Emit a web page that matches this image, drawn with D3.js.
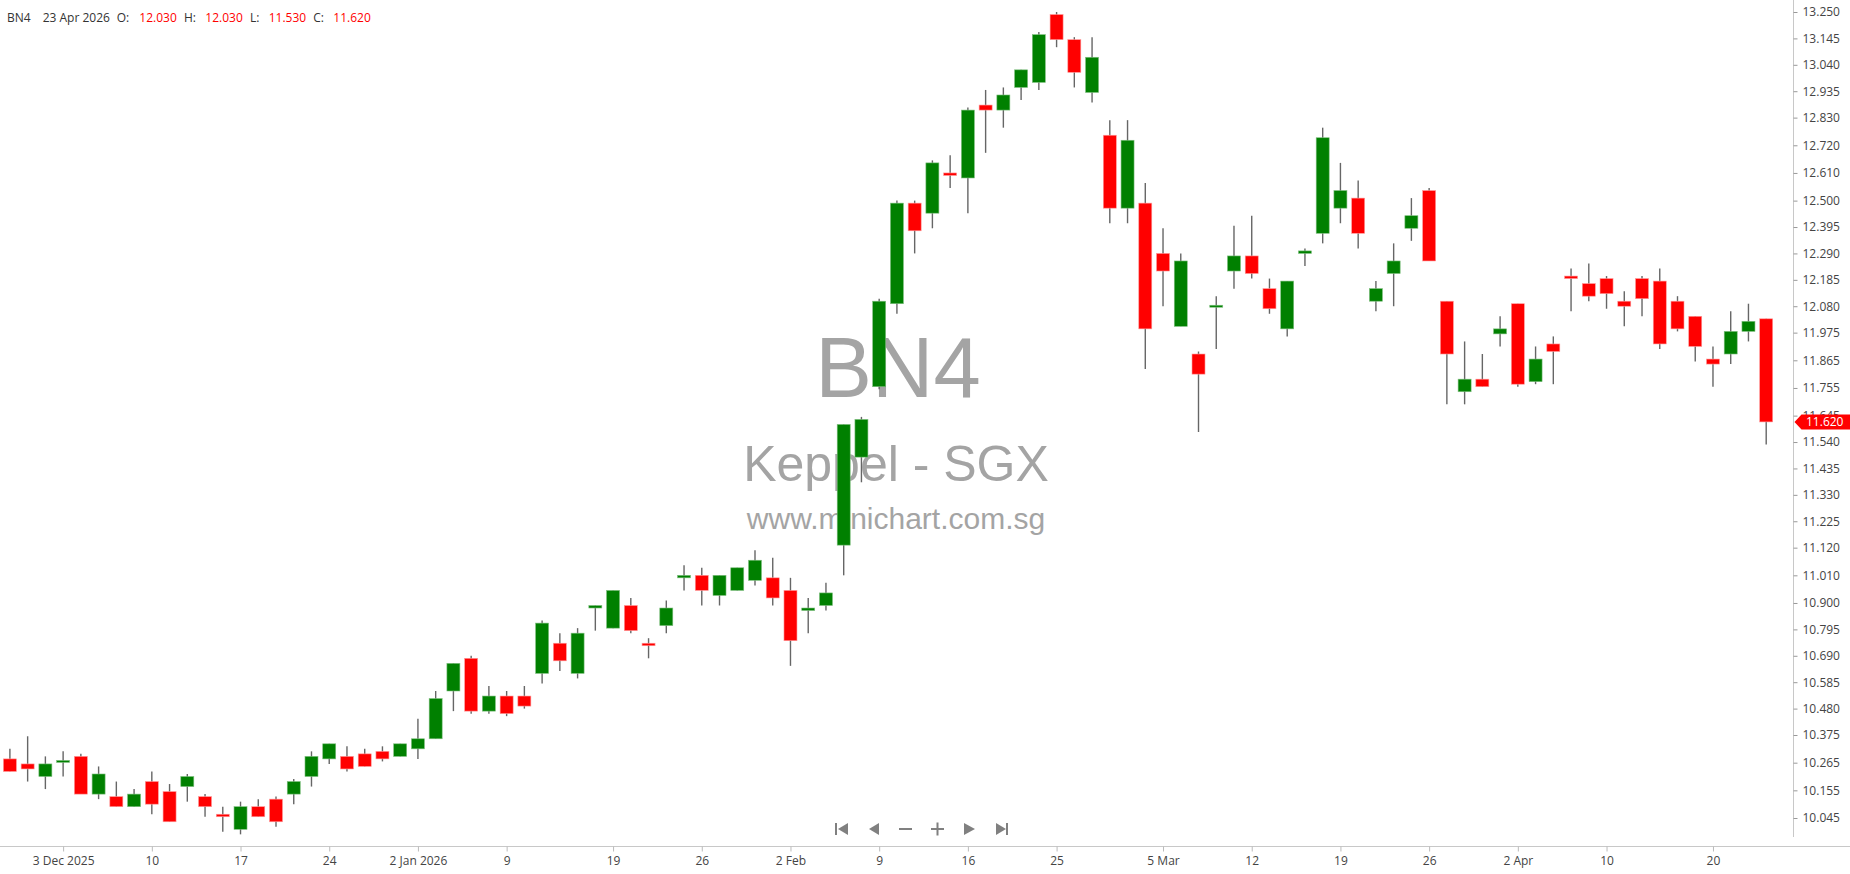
<!DOCTYPE html>
<html><head><meta charset="utf-8">
<script src="https://cdn.jsdelivr.net/npm/d3@7"></script>
<style>html,body{margin:0;padding:0;background:#fff;overflow:hidden}</style>
</head><body><svg id="c" width="1850" height="874"></svg>
<script>
const symbol = "BN4";
const company = "Keppel - SGX";
const site = "www.minichart.com.sg";
const lastDateLabel = "23 Apr 2026";

const dates = [
"2025-11-28","2025-12-01","2025-12-02","2025-12-03","2025-12-04","2025-12-05","2025-12-08","2025-12-09","2025-12-10","2025-12-11",
"2025-12-12","2025-12-15","2025-12-16","2025-12-17","2025-12-18","2025-12-19","2025-12-22","2025-12-23","2025-12-24","2025-12-26",
"2025-12-29","2025-12-30","2025-12-31","2026-01-02","2026-01-05","2026-01-06","2026-01-07","2026-01-08","2026-01-09","2026-01-12",
"2026-01-13","2026-01-14","2026-01-15","2026-01-16","2026-01-19","2026-01-20","2026-01-21","2026-01-22","2026-01-23","2026-01-26",
"2026-01-27","2026-01-28","2026-01-29","2026-01-30","2026-02-02","2026-02-03","2026-02-04","2026-02-05","2026-02-06","2026-02-09",
"2026-02-10","2026-02-11","2026-02-12","2026-02-13","2026-02-16","2026-02-19","2026-02-20","2026-02-23","2026-02-24","2026-02-25",
"2026-02-26","2026-02-27","2026-03-02","2026-03-03","2026-03-04","2026-03-05","2026-03-06","2026-03-09","2026-03-10","2026-03-11",
"2026-03-12","2026-03-13","2026-03-16","2026-03-17","2026-03-18","2026-03-19","2026-03-20","2026-03-23","2026-03-24","2026-03-25",
"2026-03-26","2026-03-27","2026-03-30","2026-03-31","2026-04-01","2026-04-02","2026-04-06","2026-04-07","2026-04-08","2026-04-09",
"2026-04-10","2026-04-13","2026-04-14","2026-04-15","2026-04-16","2026-04-17","2026-04-20","2026-04-21","2026-04-22","2026-04-23"];

const open = [
10.28,10.26,10.21,10.27,10.29,10.14,10.13,10.09,10.19,10.15,
10.17,10.13,10.06,10.00,10.09,10.12,10.14,10.21,10.28,10.29,
10.30,10.31,10.29,10.32,10.36,10.55,10.68,10.47,10.53,10.53,
10.62,10.74,10.62,10.88,10.80,10.89,10.74,10.81,11.00,11.01,
10.93,10.95,10.99,11.00,10.95,10.87,10.89,11.13,11.48,11.76,
12.09,12.49,12.45,12.61,12.59,12.88,12.86,12.95,12.97,13.24,
13.14,12.93,12.76,12.47,12.49,12.29,12.00,11.89,12.08,12.22,
12.28,12.15,11.99,12.29,12.37,12.47,12.51,12.10,12.21,12.39,
12.54,12.10,11.74,11.79,11.97,12.09,11.78,11.93,12.20,12.17,
12.19,12.10,12.19,12.18,12.10,12.04,11.87,11.89,11.98,12.03];

const high = [
10.32,10.37,10.29,10.31,10.30,10.25,10.19,10.16,10.23,10.18,
10.22,10.14,10.09,10.11,10.12,10.13,10.20,10.31,10.34,10.33,
10.32,10.33,10.34,10.44,10.55,10.66,10.69,10.57,10.55,10.57,
10.83,10.78,10.80,10.89,10.95,10.92,10.76,10.91,11.05,11.04,
11.01,11.04,11.11,11.08,11.00,10.92,10.98,11.61,11.64,12.11,
12.50,12.50,12.66,12.68,12.87,12.94,12.95,13.02,13.17,13.25,
13.15,13.15,12.82,12.82,12.57,12.39,12.29,11.90,12.12,12.40,
12.44,12.19,12.18,12.31,12.79,12.65,12.58,12.18,12.33,12.51,
12.55,12.10,11.94,11.89,12.04,12.09,11.92,11.96,12.23,12.25,
12.20,12.14,12.20,12.23,12.12,12.04,11.92,12.06,12.09,12.03];

const low = [
10.23,10.19,10.16,10.21,10.14,10.12,10.09,10.09,10.06,10.03,
10.11,10.05,9.99,9.98,10.05,10.01,10.10,10.17,10.26,10.23,
10.25,10.27,10.29,10.28,10.36,10.47,10.46,10.46,10.45,10.48,
10.58,10.63,10.60,10.79,10.80,10.78,10.68,10.78,10.95,10.89,
10.89,10.95,10.97,10.89,10.65,10.78,10.87,11.01,11.38,11.75,
12.05,12.29,12.39,12.55,12.45,12.69,12.79,12.90,12.94,13.11,
12.95,12.89,12.41,12.41,11.83,12.08,12.00,11.58,11.91,12.15,
12.19,12.05,11.96,12.24,12.33,12.41,12.31,12.06,12.08,12.34,
12.26,11.69,11.69,11.76,11.92,11.76,11.77,11.77,12.06,12.10,
12.07,12.00,12.04,11.91,11.98,11.86,11.76,11.85,11.94,11.53];

const close = [
10.23,10.24,10.26,10.27,10.14,10.22,10.09,10.14,10.10,10.03,
10.21,10.09,10.05,10.09,10.05,10.03,10.19,10.29,10.34,10.24,
10.25,10.28,10.34,10.36,10.52,10.66,10.47,10.53,10.46,10.49,
10.82,10.67,10.78,10.89,10.95,10.79,10.73,10.88,11.01,10.95,
11.01,11.04,11.07,10.92,10.75,10.88,10.94,11.61,11.63,12.10,
12.49,12.38,12.65,12.60,12.86,12.86,12.92,13.02,13.16,13.14,
13.01,13.07,12.47,12.74,11.99,12.22,12.26,11.81,12.08,12.28,
12.21,12.07,12.18,12.30,12.75,12.54,12.37,12.15,12.26,12.44,
12.26,11.89,11.79,11.76,11.99,11.77,11.87,11.90,12.19,12.12,
12.13,12.08,12.11,11.93,11.99,11.92,11.85,11.98,12.02,11.62];

const yTickValues = [13.250,13.145,13.040,12.935,12.830,12.720,12.610,12.500,12.395,12.290,12.185,12.080,
11.975,11.865,11.755,11.645,11.540,11.435,11.330,11.225,11.120,11.010,10.900,10.795,10.690,10.585,
10.480,10.375,10.265,10.155,10.045];

const xTickDates = ["2025-12-03","2025-12-10","2025-12-17","2025-12-24","2026-01-02","2026-01-09","2026-01-19",
"2026-01-26","2026-02-02","2026-02-09","2026-02-16","2026-02-25","2026-03-05","2026-03-12","2026-03-19",
"2026-03-26","2026-04-02","2026-04-10","2026-04-20"];
const xTickLabels = ["3 Dec 2025","10","17","24","2 Jan 2026","9","19","26","2 Feb","9","16","25","5 Mar","12","19","26","2 Apr","10","20"];

const UP = "#008000", DOWN = "#ff0000";
const svg = d3.select("#c");
const W = 1850, H = 874;
const axisX = 1793.5, axisY = 846.5;

svg.append("rect").attr("width", W).attr("height", H).attr("fill", "#fff");

const x = d3.scalePoint().domain(dates).range([9.9, 1766.2]);
const y = d3.scaleLinear().domain([10.045, 13.25]).range([818, 12]);
const bodyW = 13;

// watermark
const wm = svg.append("g").attr("fill", "#a4a4a4").attr("font-family", "'Liberation Sans', Arial, sans-serif").attr("text-anchor", "middle");
wm.append("text").attr("x", 898).attr("y", 397).attr("font-size", 85).text(symbol);
wm.append("text").attr("x", 896).attr("y", 481).attr("font-size", 50).text(company);
wm.append("text").attr("x", 896).attr("y", 529).attr("font-size", 30).text(site);

// candles
const data = dates.map((d, i) => ({d, o: open[i], h: high[i], l: low[i], c: close[i]}));
const cg = svg.append("g");
cg.selectAll("line.w").data(data).join("line")
  .attr("x1", d => x(d.d)).attr("x2", d => x(d.d))
  .attr("y1", d => y(d.h)).attr("y2", d => y(d.l))
  .attr("stroke", "#666").attr("stroke-width", 1.4);
cg.selectAll("rect.b").data(data).join("rect")
  .attr("x", d => x(d.d) - bodyW / 2)
  .attr("y", d => Math.min(y(d.o), y(d.c)) - (Math.abs(y(d.o) - y(d.c)) < 2 ? 1 : 0))
  .attr("width", bodyW)
  .attr("height", d => Math.max(2, Math.abs(y(d.o) - y(d.c))))
  .attr("fill", d => d.c >= d.o ? UP : DOWN)
  .attr("stroke", d => d.c >= d.o ? "#7fbf7f" : "#ff9a9a")
  .attr("stroke-width", 0.6);

// axes lines
svg.append("line").attr("x1", axisX).attr("x2", axisX).attr("y1", 0).attr("y2", 837).attr("stroke", "#c8c8c8");
svg.append("line").attr("x1", 0).attr("x2", W).attr("y1", axisY).attr("y2", axisY).attr("stroke", "#c8c8c8");

// y axis
const ya = svg.append("g").attr("transform", `translate(${axisX},0)`)
  .call(d3.axisRight(y).tickValues(yTickValues).tickFormat(d3.format(".3f")).tickSize(4).tickPadding(5));
ya.select(".domain").remove();
ya.selectAll(".tick line").attr("stroke", "#999");
ya.selectAll(".tick text").attr("fill", "#444").attr("font-size", 12).attr("font-family", "'Open Sans', sans-serif");

// x axis
const xa = svg.append("g").attr("transform", `translate(0,${axisY})`)
  .call(d3.axisBottom(x).tickValues(xTickDates).tickFormat((d) => xTickLabels[xTickDates.indexOf(d)]).tickSize(5).tickPadding(5));
xa.select(".domain").remove();
xa.selectAll(".tick line").attr("stroke", "#bbb");
xa.selectAll(".tick text").attr("fill", "#444").attr("font-size", 12).attr("font-family", "'Open Sans', sans-serif");

// last price tag
const last = data[data.length - 1];
const ly = y(last.c);
svg.append("path").attr("d", `M${axisX + 1},${ly} L${axisX + 8},${ly - 7.5} L${W},${ly - 7.5} L${W},${ly + 7.5} L${axisX + 8},${ly + 7.5} Z`)
  .attr("fill", last.c >= last.o ? UP : DOWN);
svg.append("text").attr("x", 1806).attr("y", ly + 4.3).attr("fill", "#fff").attr("font-size", 12)
  .attr("font-family", "'Open Sans', sans-serif").text(d3.format(".3f")(last.c));

// header
const f3 = d3.format(".3f");
const hdr = svg.append("g").attr("font-family", "'Open Sans', sans-serif").attr("font-size", 12);
const items = [
  [7, symbol, "#333"], [42.7, lastDateLabel, "#333"],
  [116.7, "O:", "#333"], [139.3, f3(last.o), DOWN],
  [184, "H:", "#333"], [205.3, f3(last.h), DOWN],
  [250, "L:", "#333"], [268.7, f3(last.l), DOWN],
  [313.3, "C:", "#333"], [333.3, f3(last.c), DOWN]];
items.forEach(([xx, t, col]) => hdr.append("text").attr("x", xx).attr("y", 22).attr("fill", col).text(t));

// navigation icons
const nav = svg.append("g").attr("fill", "#808080");
const cy = 829;
nav.append("rect").attr("x", 835).attr("y", cy - 6).attr("width", 2).attr("height", 12);
nav.append("path").attr("d", `M848,${cy - 6} L848,${cy + 6} L838,${cy} Z`);
nav.append("path").attr("d", `M879,${cy - 6} L879,${cy + 6} L869,${cy} Z`);
nav.append("rect").attr("x", 899).attr("y", cy - 1).attr("width", 13).attr("height", 2);
nav.append("rect").attr("x", 931).attr("y", cy - 1).attr("width", 13).attr("height", 2);
nav.append("rect").attr("x", 936.5).attr("y", cy - 6.5).attr("width", 2).attr("height", 13);
nav.append("path").attr("d", `M964,${cy - 6} L964,${cy + 6} L975,${cy} Z`);
nav.append("path").attr("d", `M996,${cy - 6} L996,${cy + 6} L1006,${cy} Z`);
nav.append("rect").attr("x", 1006).attr("y", cy - 6).attr("width", 2).attr("height", 12);
</script></body></html>
